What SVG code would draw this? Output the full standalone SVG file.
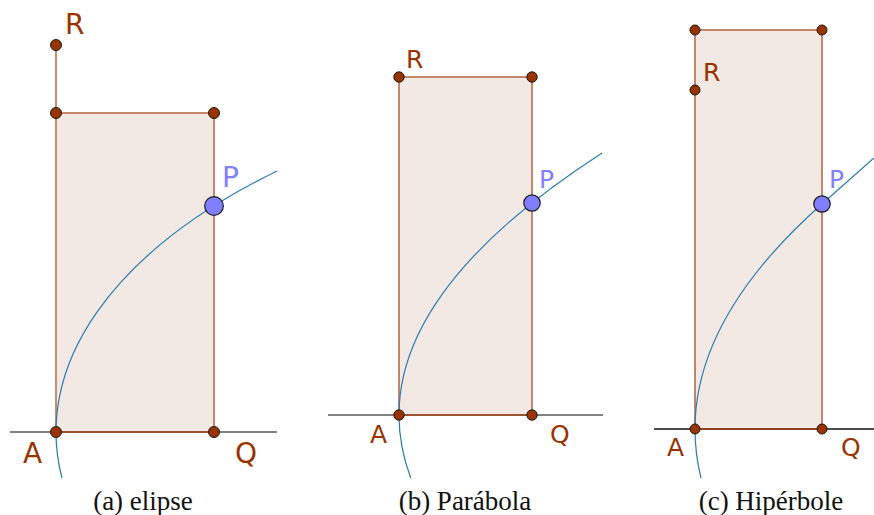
<svg xmlns="http://www.w3.org/2000/svg" width="874" height="515" viewBox="0 0 874 515">
<style>
.bg{fill:#ffffff}
.rect{fill:#f2e9e4;stroke:#a84e24;stroke-width:1.3}
.edge{stroke:#c68c72;stroke-width:2;fill:none}
.axis{stroke:#5a5a5a;stroke-width:1.3;fill:none}
.axisk{stroke:#111;stroke-width:1.3;fill:none}
.curve{stroke:#2a7cb0;stroke-width:1.2;fill:none}
.pt{fill:#993300;stroke:#1a1a1a;stroke-width:1}
.pp{fill:#7f7fff;stroke:#1a1a1a;stroke-width:1.2}
.lb{font-family:"DejaVu Sans","Noto Sans",sans-serif;fill:#993300}
.lp{font-family:"DejaVu Sans","Noto Sans",sans-serif;fill:#7f7fff}
.cap{font-family:"Liberation Serif","DejaVu Serif",serif;font-size:27px;fill:#111;text-anchor:middle}
</style>
<rect class="bg" x="0" y="0" width="874" height="515"/>

<g id="panel-a">
  <rect class="rect" x="56" y="113" width="158" height="319"/>
  <path class="axis" d="M10,432 H277"/>
  <path class="rect" style="fill:none" d="M56,432 H214"/>
  <path class="edge" d="M56,45 V432"/>
  <path class="curve" d="M61.9,478 A756,369.4 0 0 1 277,171"/>
  <circle class="pt" cx="56" cy="45" r="5.5"/>
  <circle class="pt" cx="56" cy="113" r="5.5"/>
  <circle class="pt" cx="214" cy="113" r="5.5"/>
  <circle class="pt" cx="56" cy="432" r="5.5"/>
  <circle class="pt" cx="214" cy="432" r="5.5"/>
  <circle class="pp" cx="214" cy="206" r="9.3"/>
  <text class="lb" x="65" y="34" font-size="28">R</text>
  <text class="lp" x="222" y="187" font-size="28">P</text>
  <text class="lb" x="23" y="463" font-size="28">A</text>
  <text class="lb" x="235" y="463" font-size="28">Q</text>
  <text class="cap" x="143" y="510">(a) elipse</text>
</g>

<g id="panel-b">
  <rect class="rect" x="399" y="77" width="133" height="338"/>
  <path class="axis" d="M328,415 H603"/>
  <path class="rect" style="fill:none" d="M399,415 H532"/>
  <path class="curve" d="M410.7,478 Q350.2,315.5 602.1,153"/>
  <circle class="pt" cx="399" cy="77" r="5.2"/>
  <circle class="pt" cx="532" cy="77" r="5.2"/>
  <circle class="pt" cx="399" cy="415" r="5.2"/>
  <circle class="pt" cx="532" cy="415" r="5.2"/>
  <circle class="pp" cx="532" cy="203" r="8.2"/>
  <text class="lb" x="406" y="68" font-size="25">R</text>
  <text class="lp" x="539" y="188" font-size="25">P</text>
  <text class="lb" x="370" y="443" font-size="25">A</text>
  <text class="lb" x="550" y="443" font-size="25">Q</text>
  <text class="cap" x="465" y="510">(b) Parábola</text>
</g>

<g id="panel-c">
  <rect class="rect" x="695" y="30" width="127" height="399"/>
  <path class="axisk" d="M654,429 H874"/>
  <path class="rect" style="fill:none" d="M695,429 H822"/>
  <path class="curve" d="M701,478 Q667.3,341 822,204 L874,158"/>
  <circle class="pt" cx="695" cy="30" r="5"/>
  <circle class="pt" cx="822" cy="30" r="5"/>
  <circle class="pt" cx="695" cy="90" r="5"/>
  <circle class="pt" cx="695" cy="429" r="5"/>
  <circle class="pt" cx="822" cy="429" r="5"/>
  <circle class="pp" cx="822" cy="204" r="8.2"/>
  <text class="lb" x="703" y="81" font-size="25">R</text>
  <text class="lp" x="829" y="188" font-size="25">P</text>
  <text class="lb" x="667" y="456" font-size="25">A</text>
  <text class="lb" x="841" y="456" font-size="25">Q</text>
  <text class="cap" x="771" y="510">(c) Hipérbole</text>
</g>
</svg>
